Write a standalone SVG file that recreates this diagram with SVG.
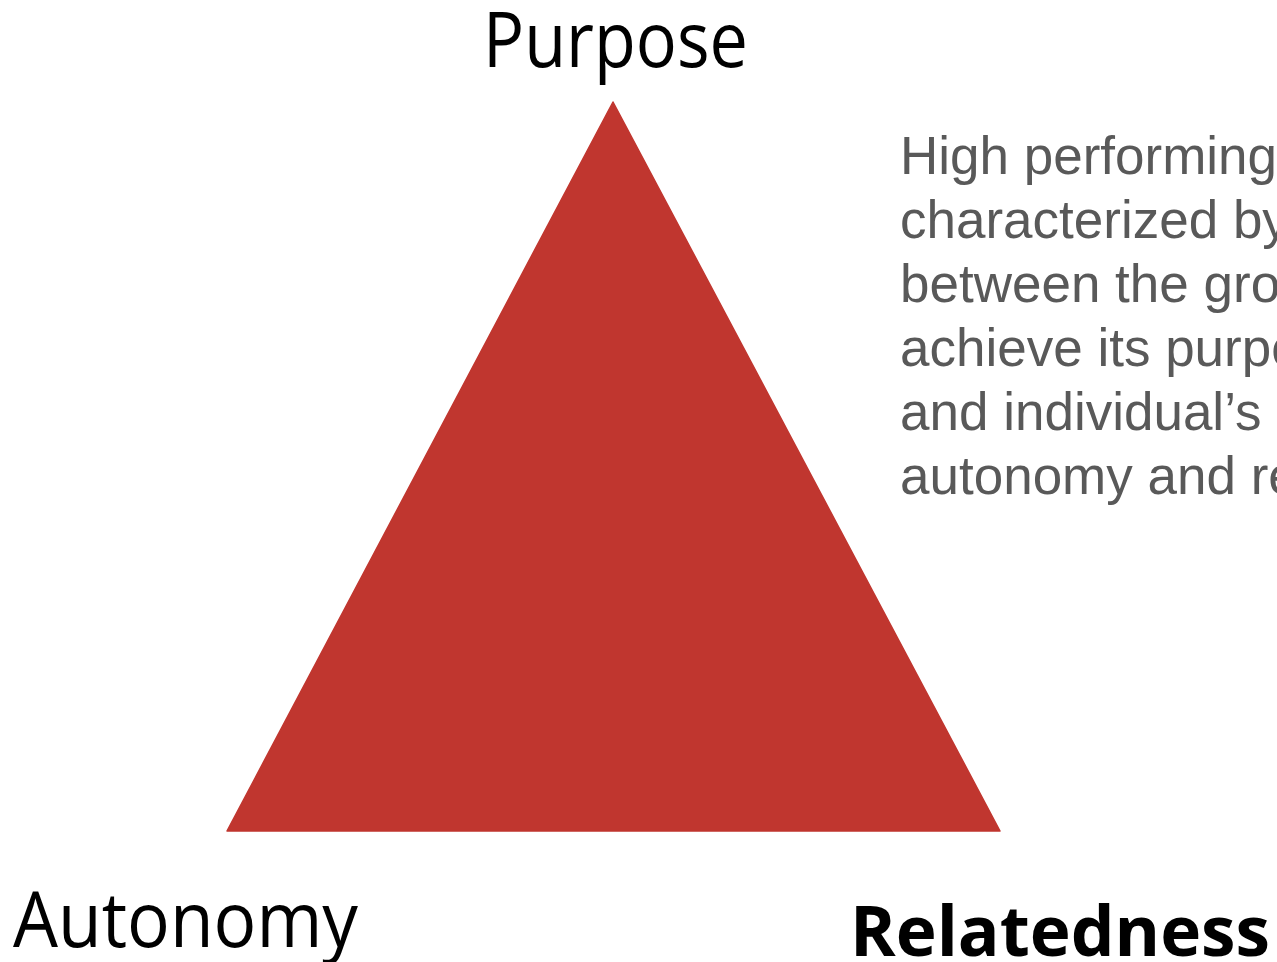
<svg xmlns="http://www.w3.org/2000/svg" width="1277" height="962" viewBox="0 0 1277 962">
  <defs>
    <style>
      .corner { font-family: "Open Sans", "Noto Sans", "Liberation Sans", sans-serif; fill: #000000; }
      .corner-bold { font-weight: 700; }
      .note { font-family: "Liberation Sans", Arial, sans-serif; font-size: 53px; fill: #595959; }
    </style>
  </defs>
  <rect width="1277" height="962" fill="#ffffff"/>

  <!-- central triangle -->
  <g id="triangle">
    <polygon points="613,102 1000,831 227,831" fill="#C0362F" stroke="#C0362F" stroke-width="1.5" stroke-linejoin="round"/>
  </g>

  <!-- corner labels -->
  <g id="purpose">
    <text class="corner" x="483" y="67" font-size="77" textLength="265" lengthAdjust="spacingAndGlyphs">Purpose</text>
  </g>
  <g id="autonomy">
    <text class="corner" x="13" y="947" font-size="77" textLength="345" lengthAdjust="spacingAndGlyphs">Autonomy</text>
  </g>
  <g id="relatedness">
    <text class="corner corner-bold" x="850" y="956" font-size="70" textLength="420" lengthAdjust="spacingAndGlyphs">Relatedness</text>
  </g>

  <!-- explanatory note, running off the right edge -->
  <g id="note">
    <text class="note" x="900" y="174">High performing</text>
    <text class="note" x="900" y="238">characterized by</text>
    <text class="note" x="900" y="302">between the gro</text>
    <text class="note" x="900" y="366">achieve its purpo</text>
    <text class="note" x="900" y="430">and individual’s</text>
    <text class="note" x="900" y="494">autonomy and re</text>
  </g>

  <g id="connectors"/>
</svg>
